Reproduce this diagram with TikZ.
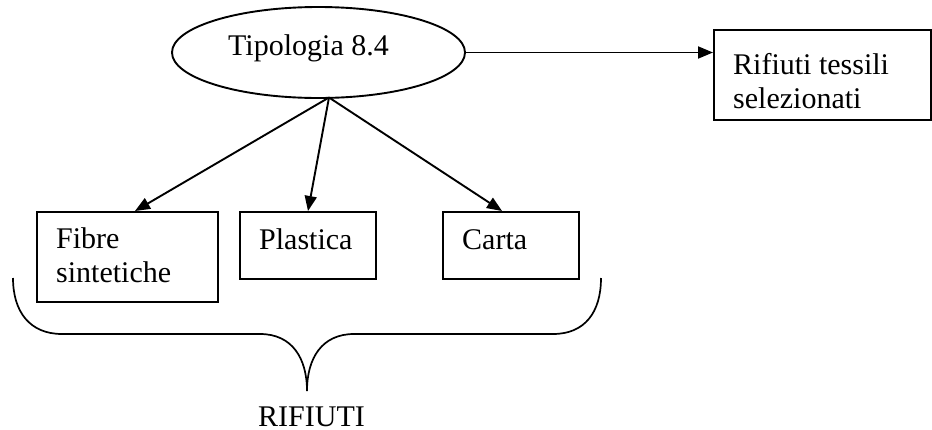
\documentclass[tikz,border=0pt]{standalone}
\usepackage{fontspec}
\setmainfont{Liberation Serif}
\usetikzlibrary{shapes.geometric,arrows.meta,calc}
\tikzset{
  boxnode/.style={draw, line width=1.9pt, rectangle, inner sep=0, anchor=north west},
  txt/.style={inner sep=0, anchor=base west, font=\fontsize{30}{34}\selectfont},
  arr/.style={line width=1.9pt, -{Triangle[length=15pt,width=12pt]}},
  ell/.style={draw, line width=1.9pt, ellipse, inner sep=0},
}
\begin{document}
\begin{tikzpicture}[x=1pt,y=-1pt]
\useasboundingbox (0,0) rectangle (932,429);
% ellipse
\node[ell, minimum width=293pt, minimum height=91pt] (ell) at (318.5,52.5) {};
\node[txt] (tipo) at (228,55) {Tipologia 8.4};
% right box
\node[boxnode, minimum width=217pt, minimum height=90pt] (rbox) at (713,29) {};
\node[txt] (r1) at (733,74) {Rifiuti tessili};
\node[txt] (r2) at (733,108) {selezionati};
% bottom boxes
\node[boxnode, minimum width=181pt, minimum height=90pt] (fibre) at (36,211) {};
\node[txt] (f1) at (56,248) {Fibre};
\node[txt] (f2) at (56,282) {sintetiche};
\node[boxnode, minimum width=136pt, minimum height=67pt] (plast) at (239,211) {};
\node[txt] (p1) at (259,249) {Plastica};
\node[boxnode, minimum width=136pt, minimum height=67pt] (carta) at (442,211) {};
\node[txt] (c1) at (462,249) {Carta};
% connectors
\coordinate (o) at (329,97.5);
\coordinate (tf) at (135,0);
\coordinate (tp) at (308,0);
\coordinate (tc) at (502,0);
\draw[arr] (o) -- (fibre.north -| tf);
\draw[arr] (o) -- (plast.north -| tp);
\draw[arr] (o) -- (carta.north -| tc);
\draw[arr] (ell.east) -- (ell.east -| rbox.west);
% brace
\draw[line width=1.7pt] (13,278) .. controls (13,312) and (30,334) .. (62,334)
  -- (260,334) .. controls (292,334) and (307,358) .. (307,391)
  .. controls (307,358) and (322,334) .. (354,334)
  -- (553,334) .. controls (585,334) and (601,312) .. (601,278);
\node[txt] (rif) at (258,426) {RIFIUTI};
\end{tikzpicture}
\end{document}
